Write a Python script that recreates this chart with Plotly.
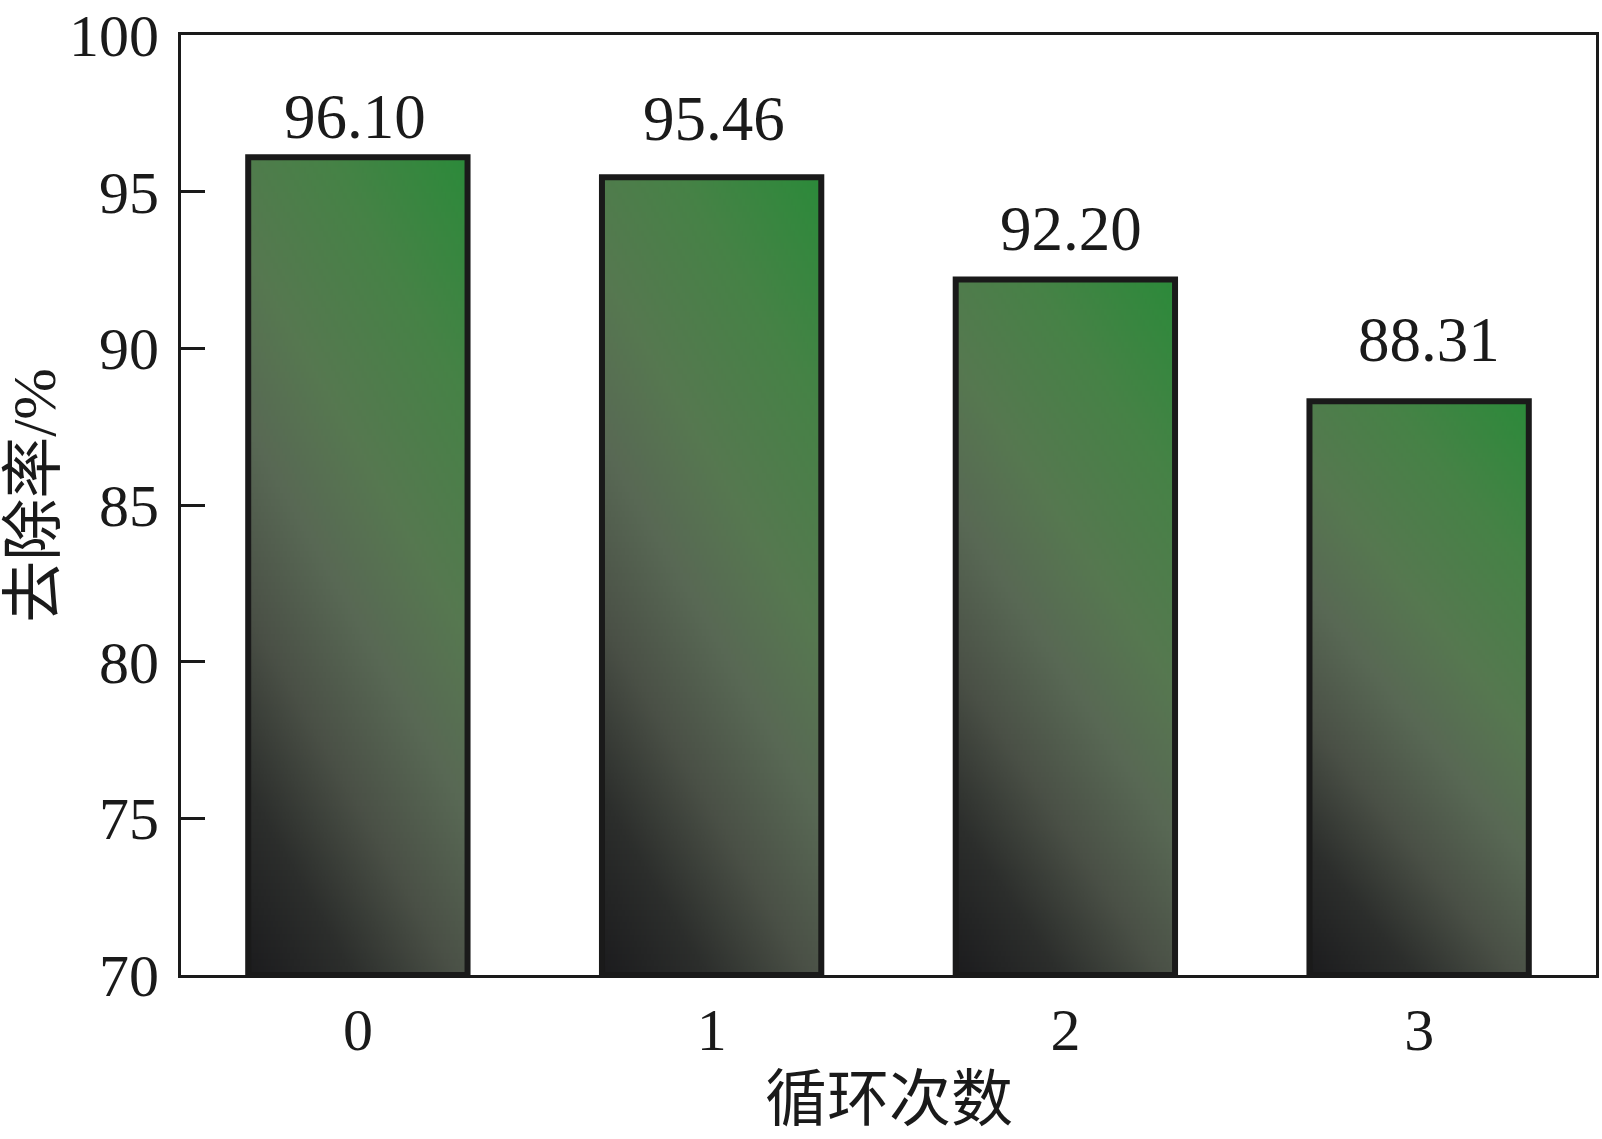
import base64
import struct
import zlib

import plotly.graph_objects as go

# ---------------- data ----------------
cycles = [0, 1, 2, 3]
cycle_labels = ["0", "1", "2", "3"]
removal_rate = [96.10, 95.46, 92.20, 88.31]
y_ticks = [70, 75, 80, 85, 90, 95, 100]

# label placement tweaks (pixels), as in the original figure
label_yshift = [3, 21, 13, 24]
label_xshift = [-3, 2, 6, 10]

Y_MIN, Y_MAX = 70, 100
BAR_W = 0.62
EDGE = "#1a1a1a"
SERIF = "Liberation Serif, Times New Roman, serif"
CJK = "Liberation Serif, Noto Sans CJK SC, serif"

# ------------- gradient image (bottom-left dark -> top-right green) -------------
stops = [
    (0.00, (28, 28, 30)),
    (0.15, (44, 46, 44)),
    (0.30, (74, 80, 70)),
    (0.45, (88, 104, 84)),
    (0.60, (86, 120, 80)),
    (0.80, (70, 130, 70)),
    (1.00, (44, 138, 58)),
]


def col_at(t):
    for (t0, c0), (t1, c1) in zip(stops[:-1], stops[1:]):
        if t <= t1:
            f = (t - t0) / (t1 - t0) if t1 > t0 else 0
            return tuple(int(round(a + (b - a) * f)) for a, b in zip(c0, c1))
    return stops[-1][1]


def make_png(n=128):
    raw = bytearray()
    for r in range(n):
        raw.append(0)
        v = 1 - r / (n - 1)  # 1 at top
        for c in range(n):
            u = c / (n - 1)
            t = min(1.0, 0.32 * u + 0.68 * v)
            raw.extend(col_at(t))

    def chunk(tag, data):
        return (struct.pack(">I", len(data)) + tag + data
                + struct.pack(">I", zlib.crc32(tag + data) & 0xffffffff))

    png = b"\x89PNG\r\n\x1a\n"
    png += chunk(b"IHDR", struct.pack(">IIBBBBB", n, n, 8, 2, 0, 0, 0))
    png += chunk(b"IDAT", zlib.compress(bytes(raw), 9))
    png += chunk(b"IEND", b"")
    return "data:image/png;base64," + base64.b64encode(png).decode()


grad_src = make_png()

fig = go.Figure()
fig.add_trace(go.Bar(
    x=cycles,
    y=[v - Y_MIN for v in removal_rate],
    base=[Y_MIN] * len(cycles),
    width=BAR_W,
    marker=dict(color="rgba(0,0,0,0)", line=dict(color=EDGE, width=6)),
    hoverinfo="skip",
))

images = []
annotations = []
for xc, v, dy, dx in zip(cycles, removal_rate, label_yshift, label_xshift):
    images.append(dict(
        source=grad_src, xref="x", yref="y",
        x=xc - BAR_W / 2, y=v, sizex=BAR_W, sizey=v - Y_MIN,
        xanchor="left", yanchor="top", sizing="stretch", layer="below",
    ))
    annotations.append(dict(
        x=xc, y=v, xref="x", yref="y", text=f"{v:.2f}", showarrow=False,
        yanchor="bottom", yshift=dy, xshift=dx,
        font=dict(family=SERIF, size=63, color="#1a1a1a"),
    ))

annotations.append(dict(
    x=0.5, y=-0.133, xref="paper", yref="paper", text="循环次数",
    showarrow=False, xanchor="center", yanchor="middle",
    font=dict(family=CJK, size=62, color="#1a1a1a"),
))
annotations.append(dict(
    x=-0.1044, y=0.51, xref="paper", yref="paper", text="去除率/%",
    showarrow=False, xanchor="center", yanchor="middle", textangle=-90,
    font=dict(family=CJK, size=62, color="#1a1a1a"),
))

fig.update_layout(
    width=1602, height=1139,
    margin=dict(l=181, r=3, t=30, b=164),
    paper_bgcolor="white", plot_bgcolor="white",
    showlegend=False,
    images=images,
    annotations=annotations,
    xaxis=dict(
        range=[-0.5, 3.5], tickmode="array", tickvals=cycles, ticktext=cycle_labels,
        showline=True, mirror=True, linecolor=EDGE, linewidth=3,
        ticks="", showgrid=False, zeroline=False,
        ticklabelstandoff=0,
        tickfont=dict(family=SERIF, size=60, color="#1a1a1a"),
    ),
    yaxis=dict(
        range=[Y_MIN, Y_MAX], tickmode="array", tickvals=y_ticks,
        showline=True, mirror=True, linecolor=EDGE, linewidth=3,
        ticks="inside", ticklen=24, tickwidth=3, tickcolor=EDGE,
        showgrid=False, zeroline=False,
        ticklabelstandoff=7, ticklabeloverflow="allow",
        tickfont=dict(family=SERIF, size=60, color="#1a1a1a"),
    ),
)

fig.write_html(
    "out.html",
    config={"displayModeBar": False},
    post_script="document.body.style.margin='0';",
)
